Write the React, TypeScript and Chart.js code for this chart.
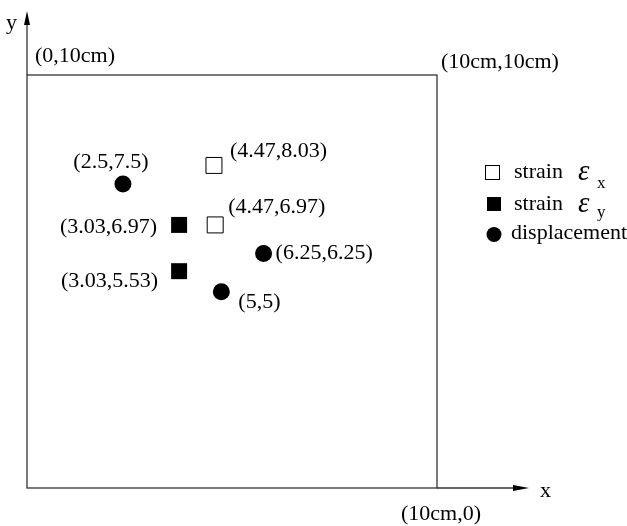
import React, { useEffect, useRef } from "react";
import { Chart, registerables } from "chart.js";

Chart.register(...registerables);

// Marker positions (plot units, box = 0..10)
const strainXPosX = [4.56, 4.59];
const strainXPosY = [7.81, 6.37];
const strainXLabels = ["(4.47,8.03)", "(4.47,6.97)"];

const strainYPosX = [3.71, 3.71];
const strainYPosY = [6.37, 5.25];
const strainYLabels = ["(3.03,6.97)", "(3.03,5.53)"];

const displacementPosX = [2.34, 5.77, 4.74];
const displacementPosY = [7.36, 5.68, 4.75];
const displacementLabels = ["(2.5,7.5)", "(6.25,6.25)", "(5,5)"];

const cornerTopLeft = "(0,10cm)";
const cornerTopRight = "(10cm,10cm)";
const cornerBottomRight = "(10cm,0)";
const axisXName = "x";
const axisYName = "y";
const legendNames = ["strain", "strain", "displacement"];
const legendSubs = ["x", "y"];

// label placement (offset from marker centre, px) and alignment
const strainXLabelOffsets = [
  { dx: 16, dy: -14, align: "left" },
  { dx: 13, dy: -18, align: "left" },
];
const strainYLabelOffsets = [
  { dx: -22, dy: 2, align: "right" },
  { dx: -21, dy: 10, align: "right" },
];
const displacementLabelOffsets = [
  { dx: -12, dy: -22, align: "center" },
  { dx: 12, dy: 0, align: "left" },
  { dx: 17, dy: 10, align: "left" },
];

const SERIF = '"Liberation Serif", "Times New Roman", serif';

const toPoints = (xs: number[], ys: number[]) => xs.map((x, i) => ({ x, y: ys[i] }));

export default function App() {
  const ref = useRef<HTMLCanvasElement | null>(null);

  useEffect(() => {
    if (!ref.current) return;

    const overlay = {
      id: "overlay",
      afterDraw(chart: any) {
        const ctx = chart.ctx as CanvasRenderingContext2D;
        const { left, right, top, bottom } = chart.chartArea;
        ctx.save();
        // box
        ctx.strokeStyle = "#333";
        ctx.lineWidth = 1.3;
        ctx.strokeRect(left, top, right - left, bottom - top);
        // y axis arrow
        ctx.beginPath();
        ctx.moveTo(left, top);
        ctx.lineTo(left, 20);
        ctx.stroke();
        ctx.fillStyle = "#000";
        ctx.beginPath();
        ctx.moveTo(left, 11);
        ctx.lineTo(left - 3, 25);
        ctx.lineTo(left + 3, 25);
        ctx.closePath();
        ctx.fill();
        // x axis arrow
        ctx.beginPath();
        ctx.moveTo(right, bottom);
        ctx.lineTo(516, bottom);
        ctx.stroke();
        ctx.beginPath();
        ctx.moveTo(529, bottom);
        ctx.lineTo(513, bottom - 3);
        ctx.lineTo(513, bottom + 3);
        ctx.closePath();
        ctx.fill();

        ctx.fillStyle = "#000";
        ctx.font = `22px ${SERIF}`;
        ctx.textBaseline = "middle";
        ctx.textAlign = "left";
        ctx.fillText(cornerTopLeft, 35, 56);
        ctx.fillText(cornerTopRight, 441, 62);
        ctx.fillText(cornerBottomRight, 401, 514);
        ctx.textBaseline = "alphabetic";
        ctx.fillText(axisYName, 6, 29);
        ctx.fillText(axisXName, 540, 497);

        // point labels
        const groups: [number, string[], { dx: number; dy: number; align: string }[]][] = [
          [0, strainXLabels, strainXLabelOffsets],
          [1, strainYLabels, strainYLabelOffsets],
          [2, displacementLabels, displacementLabelOffsets],
        ];
        ctx.textBaseline = "middle";
        groups.forEach(([di, labels, offs]) => {
          const meta = chart.getDatasetMeta(di);
          meta.data.forEach((el: any, j: number) => {
            const o = offs[j];
            ctx.textAlign = o.align as CanvasTextAlign;
            ctx.fillText(labels[j], el.x + o.dx, el.y + o.dy);
          });
        });

        // legend
        ctx.textAlign = "left";
        ctx.textBaseline = "alphabetic";
        ctx.lineWidth = 1;
        ctx.strokeStyle = "#000";
        ctx.fillStyle = "#fff";
        ctx.fillRect(485.5, 165.5, 14, 14);
        ctx.strokeRect(485.5, 165.5, 14, 14);
        ctx.fillStyle = "#000";
        ctx.fillRect(487, 197, 14, 14);
        ctx.beginPath();
        ctx.arc(494, 234.5, 7.5, 0, Math.PI * 2);
        ctx.fill();

        ctx.font = `22px ${SERIF}`;
        ctx.fillText(legendNames[0], 514, 178);
        ctx.fillText(legendNames[1], 514, 210);
        ctx.fillText(legendNames[2], 511, 239);
        ctx.font = `italic 29px ${SERIF}`;
        ctx.fillText("\u03b5", 578, 180);
        ctx.fillText("\u03b5", 578, 212);
        ctx.font = `17px ${SERIF}`;
        ctx.fillText(legendSubs[0], 597, 188);
        ctx.fillText(legendSubs[1], 597, 217);
        ctx.restore();
      },
    };

    const chart = new Chart(ref.current, {
      type: "scatter",
      data: {
        datasets: [
          {
            label: "strain εx",
            data: toPoints(strainXPosX, strainXPosY),
            pointStyle: "rect",
            pointRadius: 11.3,
            backgroundColor: "#fff",
            borderColor: "#000",
            borderWidth: 1,
          },
          {
            label: "strain εy",
            data: toPoints(strainYPosX, strainYPosY),
            pointStyle: "rect",
            pointRadius: 11.3,
            backgroundColor: "#000",
            borderColor: "#000",
            borderWidth: 0,
          },
          {
            label: "displacement",
            data: toPoints(displacementPosX, displacementPosY),
            pointStyle: "circle",
            pointRadius: 8.5,
            backgroundColor: "#000",
            borderColor: "#000",
            borderWidth: 0,
          },
        ],
      },
      options: {
        responsive: false,
        animation: false,
        events: [],
        layout: { padding: { left: 27, right: 190, top: 75, bottom: 38 } },
        scales: {
          x: { type: "linear", min: 0, max: 10, display: false },
          y: { type: "linear", min: 0, max: 10, display: false },
        },
        plugins: {
          legend: { display: false },
          tooltip: { enabled: false },
        },
      },
      plugins: [overlay],
    });
    return () => chart.destroy();
  }, []);

  return (
    <div style={{ position: "fixed", left: 0, top: 0, width: 627, height: 526, background: "#fff" }}>
      <canvas ref={ref} width={627} height={526} style={{ display: "block" }} />
    </div>
  );
}
